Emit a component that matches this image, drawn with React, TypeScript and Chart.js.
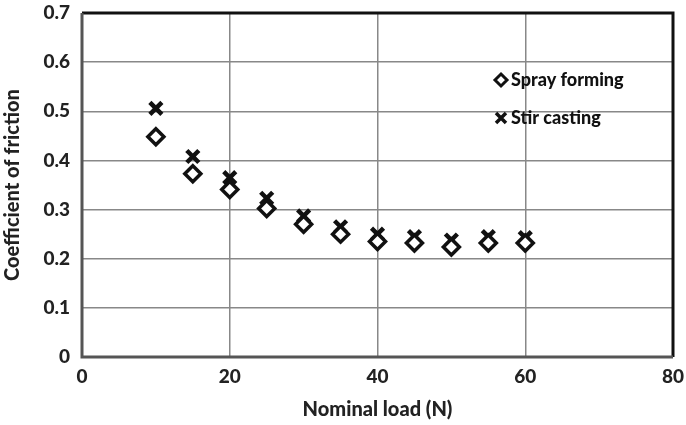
import React, { useEffect, useRef } from "react";
import { Chart, registerables } from "chart.js";

Chart.register(...registerables);

const loads = [10, 15, 20, 25, 30, 35, 40, 45, 50, 55, 60];
const sprayForming = [0.448, 0.373, 0.341, 0.302, 0.27, 0.25, 0.235, 0.232, 0.224, 0.232, 0.232];
const stirCasting = [0.506, 0.408, 0.365, 0.323, 0.287, 0.265, 0.25, 0.245, 0.238, 0.245, 0.243];
const xTicks = [0, 20, 40, 60, 80];
const yTicks = [0, 0.1, 0.2, 0.3, 0.4, 0.5, 0.6, 0.7];
const seriesNames = ["Spray forming", "Stir casting"];

const FONT = "Lato, 'Open Sans', 'DejaVu Sans', sans-serif";
const W = "900";

const frameAndLegend = {
  id: "frameAndLegend",
  afterDraw(chart: any) {
    const { ctx, chartArea } = chart;
    const { left, right, top, bottom } = chartArea;
    ctx.save();
    ctx.strokeStyle = "#111";
    ctx.lineWidth = 3;
    ctx.beginPath();
    ctx.moveTo(left, top);
    ctx.lineTo(right, top);
    ctx.lineTo(right, bottom);
    ctx.stroke();
    ctx.strokeStyle = "#555";
    ctx.beginPath();
    ctx.moveTo(left, top);
    ctx.lineTo(left, bottom);
    ctx.lineTo(right, bottom);
    ctx.stroke();

    // legend
    const lx = right - 172;
    const y1 = top + 67;
    const y2 = top + 105;
    ctx.fillStyle = "#fff";
    ctx.strokeStyle = "#111";
    ctx.lineWidth = 3;
    ctx.beginPath();
    ctx.moveTo(lx, y1 - 6);
    ctx.lineTo(lx + 6, y1);
    ctx.lineTo(lx, y1 + 6);
    ctx.lineTo(lx - 6, y1);
    ctx.closePath();
    ctx.fill();
    ctx.stroke();
    ctx.lineWidth = 3.5;
    ctx.beginPath();
    ctx.moveTo(lx - 5, y2 - 5);
    ctx.lineTo(lx + 5, y2 + 5);
    ctx.moveTo(lx + 5, y2 - 5);
    ctx.lineTo(lx - 5, y2 + 5);
    ctx.stroke();
    ctx.fillStyle = "#111";
    ctx.font = `${W} 18px ${FONT}`;
    ctx.textBaseline = "middle";
    ctx.textAlign = "left";
    ctx.fillText(seriesNames[0], lx + 10, y1);
    ctx.fillText(seriesNames[1], lx + 10, y2);
    ctx.restore();
  },
};

export default function App() {
  const ref = useRef<HTMLCanvasElement>(null);
  useEffect(() => {
    document.body.style.margin = "0";
    const chart = new Chart(ref.current!, {
      type: "scatter",
      data: {
        datasets: [
          {
            label: seriesNames[0],
            data: loads.map((x, i) => ({ x, y: sprayForming[i] })),
            pointStyle: "rectRot",
            pointRadius: 8,
            pointBackgroundColor: "#fff",
            pointBorderColor: "#111",
            pointBorderWidth: 3.5,
          },
          {
            label: seriesNames[1],
            data: loads.map((x, i) => ({ x, y: stirCasting[i] })),
            pointStyle: "crossRot",
            pointRadius: 8.5,
            pointBorderColor: "#111",
            pointBorderWidth: 4.5,
          },
        ],
      },
      options: {
        responsive: false,
        animation: false,
        layout: { padding: { top: 10, right: 9, left: 0, bottom: 0 } },
        plugins: { legend: { display: false }, tooltip: { enabled: false } },
        scales: {
          x: {
            type: "linear",
            min: 0,
            max: 80,
            afterBuildTicks: (s: any) => {
              s.ticks = xTicks.map((v) => ({ value: v }));
            },
            afterFit: (s: any) => {
              s.height = 68;
              s.paddingLeft = 0;
              s.paddingRight = 0;
            },
            grid: { color: "#888", lineWidth: 1.5, drawTicks: false },
            border: { display: false },
            ticks: {
              color: "#222",
              padding: 8,
              font: { family: FONT, size: 19, weight: W },
            },
            title: {
              display: true,
              text: "Nominal load (N)",
              color: "#222",
              padding: { top: 0, bottom: 3 },
              font: { family: FONT, size: 20, weight: W },
            },
          },
          y: {
            type: "linear",
            min: 0,
            max: 0.7,
            afterBuildTicks: (s: any) => {
              s.ticks = yTicks.map((v) => ({ value: v }));
            },
            afterFit: (s: any) => {
              s.width = 82;
              s.paddingTop = 0;
              s.paddingBottom = 0;
            },
            grid: { color: "#888", lineWidth: 1.5, drawTicks: false },
            border: { display: false },
            ticks: {
              color: "#222",
              padding: 12,
              font: { family: FONT, size: 19, weight: W },
              callback: (v: any) => String(Number(v.toFixed(1))),
            },
            title: {
              display: true,
              text: "Coefficient of friction",
              color: "#222",
              padding: { top: 1, bottom: 0 },
              font: { family: FONT, size: 20, weight: W },
            },
          },
        },
      },
      plugins: [frameAndLegend],
    });
    return () => chart.destroy();
  }, []);
  return (
    <div style={{ width: 686, height: 425, background: "#fff" }}>
      <canvas ref={ref} width={686} height={425} />
    </div>
  );
}
